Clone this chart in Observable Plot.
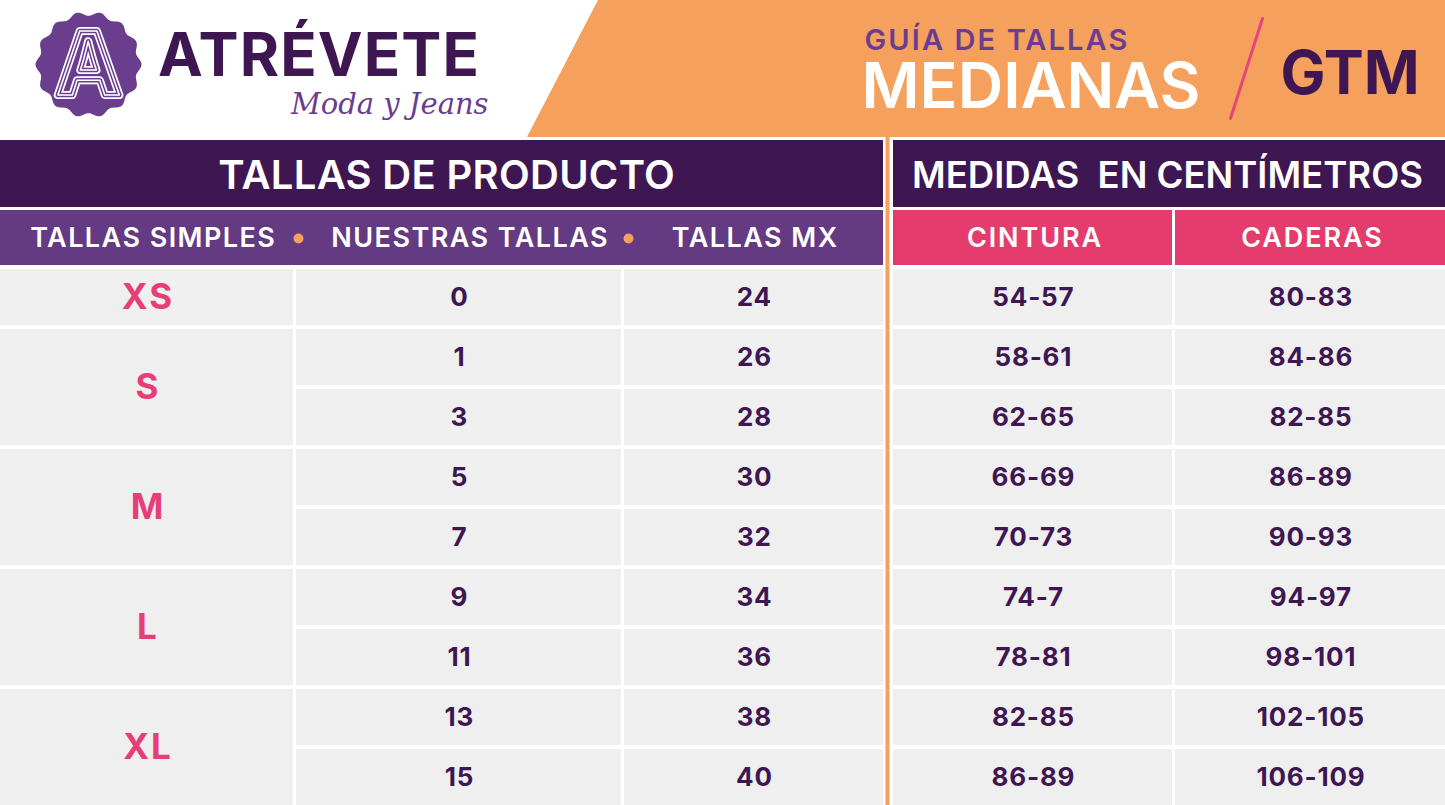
<!DOCTYPE html>
<html><head><meta charset="utf-8">
<script src="https://cdn.jsdelivr.net/npm/d3@7"></script>
<script src="https://cdn.jsdelivr.net/npm/@observablehq/plot@0.6"></script>
<style>
html,body{margin:0;padding:0;background:#fff;overflow:hidden;}
#chart svg{display:block;}
</style></head><body><div id="chart"></div>
<script>
// ---------- DATA ----------
const marca = "ATRÉVETE";
const lema = "Moda y Jeans";
const guia = "GUÍA DE TALLAS";
const linea = "MEDIANAS";
const pais = "GTM";
const tituloProducto = "TALLAS DE PRODUCTO";
const tituloMedidas = "MEDIDAS  EN CENTÍMETROS";
const columnasProducto = ["TALLAS SIMPLES", "NUESTRAS TALLAS", "TALLAS MX"];
const columnasMedidas = ["CINTURA", "CADERAS"];
const tallasSimples = ["XS", "S", "M", "L", "XL"];
const filasPorTalla = [1, 2, 2, 2, 2];
const nuestrasTallas = ["0", "1", "3", "5", "7", "9", "11", "13", "15"];
const tallasMX = ["24", "26", "28", "30", "32", "34", "36", "38", "40"];
const cintura = ["54-57", "58-61", "62-65", "66-69", "70-73", "74-7", "78-81", "82-85", "86-89"];
const caderas = ["80-83", "84-86", "82-85", "86-89", "90-93", "94-97", "98-101", "102-105", "106-109"];

// ---------- LAYOUT / STYLE ----------
const W = 1445, H = 805;
const FONT = "Inter, Lato, sans-serif";
const C = {orange: "#F6A05D", dark: "#3E1651", purple: "#643A82", pink: "#E53C6E",
           grey: "#EFEFEF", logo: "#6B3D8F", pinkText: "#E63F77", slash: "#E5457A"};
const cols = [{x1: 0, x2: 293}, {x1: 296, x2: 621}, {x1: 624, x2: 883}, {x1: 893, x2: 1172}, {x1: 1175, x2: 1445}];
const cx = cols.map(c => (c.x1 + c.x2) / 2);
const rowTop0 = 269, rowPitch = 60, rowH = 56;
const rowTop = i => rowTop0 + rowPitch * i;
const headerBand = {y1: 0, y2: 137};
const titleBand = {y1: 140, y2: 207};
const subBand = {y1: 210, y2: 265};
const leftBlock = {x1: 0, x2: 883}, rightBlock = {x1: 893, x2: W};
const subLabelX = [152, 469, 754];
const subDotX = [298, 628];
const spacing = {titulo: 0.3, sub: 1.45, sub2: 1.9, valores: 0.8, guia: 2.1, marca: 1.1, simples: 2};
const tag = k => () => k;

// tables built from the arrays
const filas = nuestrasTallas.map((v, i) => ({i, nuestra: v, mx: tallasMX[i], cintura: cintura[i], caderas: caderas[i]}));
let acc = 0;
const grupos = tallasSimples.map((t, k) => { const g = {t, start: acc, n: filasPorTalla[k]}; acc += filasPorTalla[k]; return g; });
const valueCols = [{k: 1, f: "nuestra"}, {k: 2, f: "mx"}, {k: 3, f: "cintura"}, {k: 4, f: "caderas"}];

const scallop = {
  draw(ctx, size) {
    const r = Math.sqrt(size / Math.PI), n = 14, steps = 280;
    for (let s = 0; s <= steps; ++s) {
      const a = 2 * Math.PI * s / steps;
      const rr = r * (1 - 0.04 + 0.04 * Math.cos(n * a));
      const x = rr * Math.cos(a), y = rr * Math.sin(a);
      s ? ctx.lineTo(x, y) : ctx.moveTo(x, y);
    }
    ctx.closePath();
  }
};

const marks = [];
marks.push(Plot.areaX([{y: headerBand.y1, a: 598}, {y: headerBand.y2, a: 527}], {y: "y", x1: "a", x2: () => W, fill: C.orange}));
marks.push(Plot.ruleX([887], {x: d => d, y1: () => 137, y2: () => H, stroke: C.orange, strokeWidth: 4}));
marks.push(Plot.rect([leftBlock, rightBlock], {x1: "x1", x2: "x2", y1: () => titleBand.y1, y2: () => titleBand.y2, fill: C.dark}));
marks.push(Plot.rect([leftBlock], {x1: "x1", x2: "x2", y1: () => subBand.y1, y2: () => subBand.y2, fill: C.purple}));
marks.push(Plot.rect(columnasMedidas, {x1: (d, j) => cols[3 + j].x1, x2: (d, j) => cols[3 + j].x2, y1: () => subBand.y1, y2: () => subBand.y2, fill: C.pink}));
marks.push(Plot.text([tituloProducto], {ariaLabel: tag("titulo"), x: () => 446, y: () => 176, text: d => d, fill: "white", fontSize: 40, fontWeight: 600, fontFamily: FONT}));
marks.push(Plot.text([tituloMedidas], {x: () => 1167, y: () => 176, text: d => d, fill: "white", fontSize: 36.5, fontWeight: 600, fontFamily: FONT}));
marks.push(Plot.text(columnasProducto, {ariaLabel: tag("sub"), x: (d, j) => subLabelX[j], y: () => 238, text: d => d, fill: "white", fontSize: 27, fontWeight: 600, fontFamily: FONT}));
marks.push(Plot.dot(subDotX, {x: d => d, y: () => 238, r: 5, fill: C.orange}));
marks.push(Plot.text(columnasMedidas, {ariaLabel: tag("sub2"), x: (d, j) => cx[3 + j] + 1, y: () => 238, text: d => d, fill: "white", fontSize: 27, fontWeight: 600, fontFamily: FONT}));
marks.push(Plot.rect(grupos, {x1: () => cols[0].x1, x2: () => cols[0].x2, y1: d => rowTop(d.start), y2: d => rowTop(d.start + d.n - 1) + rowH, fill: C.grey}));
marks.push(Plot.text(grupos, {ariaLabel: tag("simples"), x: () => cx[0], y: d => (rowTop(d.start) + rowTop(d.start + d.n - 1) + rowH) / 2, text: "t", fill: C.pinkText, fontSize: 35, fontWeight: 700, fontFamily: FONT}));
for (const vc of valueCols) {
  marks.push(Plot.rect(filas, {x1: () => cols[vc.k].x1, x2: () => cols[vc.k].x2, y1: d => rowTop(d.i), y2: d => rowTop(d.i) + rowH, fill: C.grey}));
  marks.push(Plot.text(filas, {ariaLabel: tag("valores"), x: () => cx[vc.k], y: d => rowTop(d.i) + rowH / 2, text: vc.f, fill: C.dark, fontSize: 26, fontWeight: 700, fontFamily: FONT}));
}
// logo
marks.push(Plot.dot([marca], {x: () => 88, y: () => 64, r: 53, symbol: scallop, fill: C.logo}));
for (const [sw, st] of [[8, "white"], [4.6, C.logo], [1.5, "white"]]) {
  marks.push(Plot.text(["A"], {x: () => 88, y: () => 66, text: d => d, fill: "none", stroke: st, strokeWidth: sw, fontSize: 88, fontWeight: 700, fontFamily: FONT}));
}
marks.push(Plot.text([marca], {ariaLabel: tag("marca"), x: () => 157, y: () => 75, text: d => d, textAnchor: "start", lineAnchor: "bottom", fill: C.dark, fontSize: 60, fontWeight: 700, fontFamily: FONT}));
marks.push(Plot.text([lema], {x: () => 488, y: () => 113, text: d => d, textAnchor: "end", lineAnchor: "bottom", fill: C.logo, fontSize: 29, fontStyle: "italic", fontFamily: "'DejaVu Serif', serif"}));
marks.push(Plot.text([guia], {ariaLabel: tag("guia"), x: () => 863, y: () => 49, text: d => d, textAnchor: "start", lineAnchor: "bottom", fill: C.logo, fontSize: 29, fontWeight: 600, fontFamily: FONT}));
marks.push(Plot.text([linea], {x: () => 861, y: () => 107, text: d => d, textAnchor: "start", lineAnchor: "bottom", fill: "white", fontSize: 63, fontWeight: 600, fontFamily: FONT}));
marks.push(Plot.line([{x: 1262, y: 18}, {x: 1230, y: 118}], {x: "x", y: "y", stroke: C.slash, strokeWidth: 3}));
marks.push(Plot.text([pais], {x: () => 1280, y: () => 93, text: d => d, textAnchor: "start", lineAnchor: "bottom", fill: C.dark, fontSize: 60, fontWeight: 700, fontFamily: FONT}));

const chart = Plot.plot({
  width: W, height: H,
  margin: 0,
  x: {type: "linear", domain: [0, W], range: [0, W], axis: null},
  y: {type: "linear", domain: [0, H], range: [0, H], axis: null},
  style: {background: "white", overflow: "hidden"},
  marks
});
for (const [k, v] of Object.entries(spacing)) {
  d3.select(chart).selectAll(`[aria-label="${k}"]`).each(function() {
    const el = this.tagName === "text" ? [this] : Array.from(this.querySelectorAll("text"));
    for (const t of el) { t.setAttribute("letter-spacing", v); t.setAttribute("dx", v / 2); }
  });
}
document.getElementById("chart").append(chart);
</script></body></html>
